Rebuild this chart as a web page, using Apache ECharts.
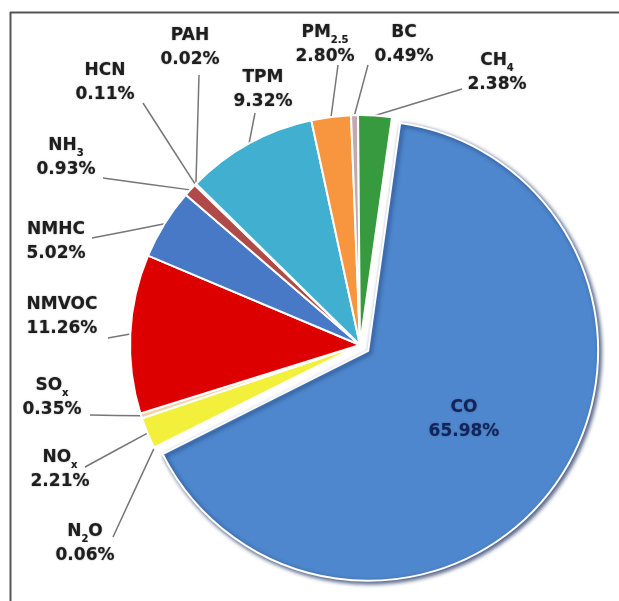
<!DOCTYPE html>
<html>
<head>
<meta charset="utf-8">
<script src="https://cdn.jsdelivr.net/npm/echarts@6/dist/echarts.min.js"></script>
<style>
  html, body { margin: 0; padding: 0; background: #fff; }
  #chart { width: 619px; height: 601px; }
</style>
</head>
<body>
<div id="chart"></div>
<script>
// Emission shares by pollutant (percent), listed clockwise starting with CO
const pollutants = ['CO', 'N2O', 'NOx', 'SOx', 'NMVOC', 'NMHC', 'NH3', 'HCN', 'PAH', 'TPM', 'PM2.5', 'BC', 'CH4'];
const labelNames = ['CO', 'N_{2}O', 'NO_{x}', 'SO_{x}', 'NMVOC', 'NMHC', 'NH_{3}', 'HCN', 'PAH', 'TPM', 'PM_{2.5}', 'BC', 'CH_{4}'];
const shares = [65.98, 0.06, 2.21, 0.35, 11.26, 5.02, 0.93, 0.11, 0.02, 9.32, 2.80, 0.49, 2.38];

const sliceColors = ['#4e87cd', '#e6e69a', '#f3f03c', '#f4d2a8', '#dc0000', '#4879c6', '#b04a48',
                     '#c98c8c', '#8a8a8a', '#40afd0', '#f7963e', '#c2a9b0', '#379a3e'];

// Where each outside label block is centred, and where its leader line meets the text
const labelCenters = [null, [85, 544], [60, 470], [52, 398], [62, 317], [56, 242], [66, 158],
                      [105, 83], [190, 48], [263, 90], [325, 45], [404, 45], [497, 73]];
const lineEnds = [null, [113, 537], [85, 467], [90, 415], [108, 338], [92, 238], [103, 178],
                  [143, 103], [199, 75], [255, 113], [338, 65], [368, 65], [462, 89]];

const chart = echarts.init(document.getElementById('chart'), null, { renderer: 'canvas' });

const textBase = {
  fontFamily: 'DejaVu Sans', fontWeight: 'bold', fontSize: 17, lineHeight: 24,
  textShadowColor: 'rgba(40,40,40,0.55)', textShadowBlur: 1.5
};
const subBase = {
  fontFamily: 'DejaVu Sans', fontWeight: 'bold', fontSize: 10, lineHeight: 14, verticalAlign: 'bottom',
  textShadowColor: 'rgba(40,40,40,0.5)', textShadowBlur: 1
};

function labelText(p) {
  const i = p.dataIndex;
  const t = i === 0 ? 'c' : 't';
  const s = i === 0 ? 'cs' : 's';
  const name = labelNames[i].replace(/_\{([^}]*)\}/g, (m, sub) => '}{' + s + '|' + sub + '}{' + t + '|');
  return '{' + t + '|' + name + '}\n{' + t + '|' + p.value.toFixed(2) + '%}';
}

const data = pollutants.map((n, i) => {
  const item = { name: n, value: shares[i], itemStyle: { color: sliceColors[i] } };
  if (i === 0) {
    item.selected = true;
    item.label = { position: 'inside' };
    item.labelLine = { show: false };
    item.itemStyle = {
      color: sliceColors[0],
      shadowColor: 'rgba(20, 40, 90, 0.8)',
      shadowBlur: 4,
      shadowOffsetX: 2,
      shadowOffsetY: 2
    };
  }
  return item;
});

chart.setOption({
  backgroundColor: '#fff',
  animation: false,
  graphic: [
    { type: 'line', shape: { x1: 10, y1: 12.5, x2: 619, y2: 12.5 }, style: { stroke: '#555', lineWidth: 2 } },
    { type: 'line', shape: { x1: 10.5, y1: 12, x2: 10.5, y2: 601 }, style: { stroke: '#555', lineWidth: 2 } }
  ],
  series: [{
    type: 'pie',
    center: [360, 345],
    radius: 230,
    startAngle: 82,
    clockwise: true,
    selectedMode: 'single',
    selectedOffset: 10,
    avoidLabelOverlap: false,
    emphasis: { disabled: true },
    itemStyle: { borderColor: '#ffffff', borderWidth: 2 },
    label: {
      show: true,
      position: 'outside',
      formatter: labelText,
      rich: {
        t: Object.assign({ color: '#1e1e1e' }, textBase),
        s: Object.assign({ color: '#1e1e1e' }, subBase),
        c: Object.assign({ color: '#132459' }, textBase, { textShadowColor: 'rgba(19,36,89,0.5)' }),
        cs: Object.assign({ color: '#132459' }, subBase)
      }
    },
    labelLine: {
      show: true,
      length: 10,
      length2: 10,
      smooth: false,
      lineStyle: { color: '#777777', width: 1.5 }
    },
    labelLayout: function (params) {
      const i = params.dataIndex;
      const c = labelCenters[i];
      if (!c) return;
      const out = { x: c[0], y: c[1], align: 'center', verticalAlign: 'middle' };
      const pts = params.labelLinePoints;
      if (pts && pts.length) {
        const p0 = pts[0];
        const e = lineEnds[i];
        out.labelLinePoints = [[p0[0], p0[1]], [(p0[0] + e[0]) / 2, (p0[1] + e[1]) / 2], [e[0], e[1]]];
      }
      return out;
    },
    data: data
  }]
});
</script>
</body>
</html>
